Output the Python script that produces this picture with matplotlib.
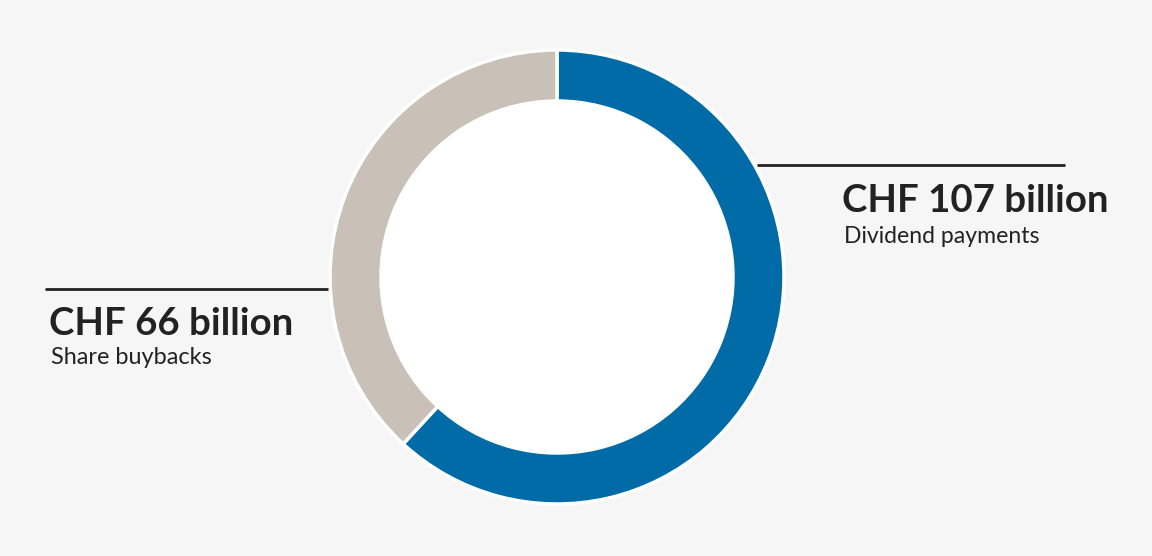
import matplotlib.pyplot as plt
from matplotlib.patches import Circle

# ---------------- DATA ----------------
labels = ["Dividend payments", "Share buybacks"]
values = [107, 66]  # CHF billion
amounts = ["CHF 107 billion", "CHF 66 billion"]

# ---------------- STYLE ----------------
bg = "#f7f6f6"
blue = "#006ba6"
beige = "#c9c0b7"
text_color = "#222222"
W, H = 1152, 556

fig = plt.figure(figsize=(W / 100, H / 100), dpi=100, facecolor=bg)
ax = fig.add_axes([0, 0, 1, 1])
ax.set_facecolor(bg)

cx, cy = 557, H - 277
r_out, r_in = 227, 176

ax.add_patch(Circle((cx, cy), r_in, facecolor="white", edgecolor="none", zorder=0))
ax.pie(values, colors=[blue, beige], startangle=90, counterclock=False,
       center=(cx, cy), radius=r_out, frame=True,
       wedgeprops=dict(width=r_out - r_in, edgecolor="white", linewidth=2.5))
ax.set_xlim(0, W)
ax.set_ylim(0, H)
ax.set_aspect("equal")
ax.axis("off")

# ---------------- LABELS ----------------
font = ["Lato", "DejaVu Sans"]

# right: dividends
ax.plot([757, 1065], [H - 165, H - 165], color=text_color, lw=2, solid_capstyle="butt")
ax.text(842, H - 212, amounts[0], fontsize=27.6, fontweight="bold", color=text_color,
        family=font, va="baseline", ha="left")
ax.text(844, H - 243, labels[0], fontsize=16.6, color=text_color,
        family=font, va="baseline", ha="left")

# left: buybacks
ax.plot([45, 328], [H - 289, H - 289], color=text_color, lw=2, solid_capstyle="butt")
ax.text(49, H - 335, amounts[1], fontsize=27.6, fontweight="bold", color=text_color,
        family=font, va="baseline", ha="left")
ax.text(51, H - 364, labels[1], fontsize=16.9, color=text_color,
        family=font, va="baseline", ha="left")

fig.savefig("out.png", dpi=100, facecolor=bg)
